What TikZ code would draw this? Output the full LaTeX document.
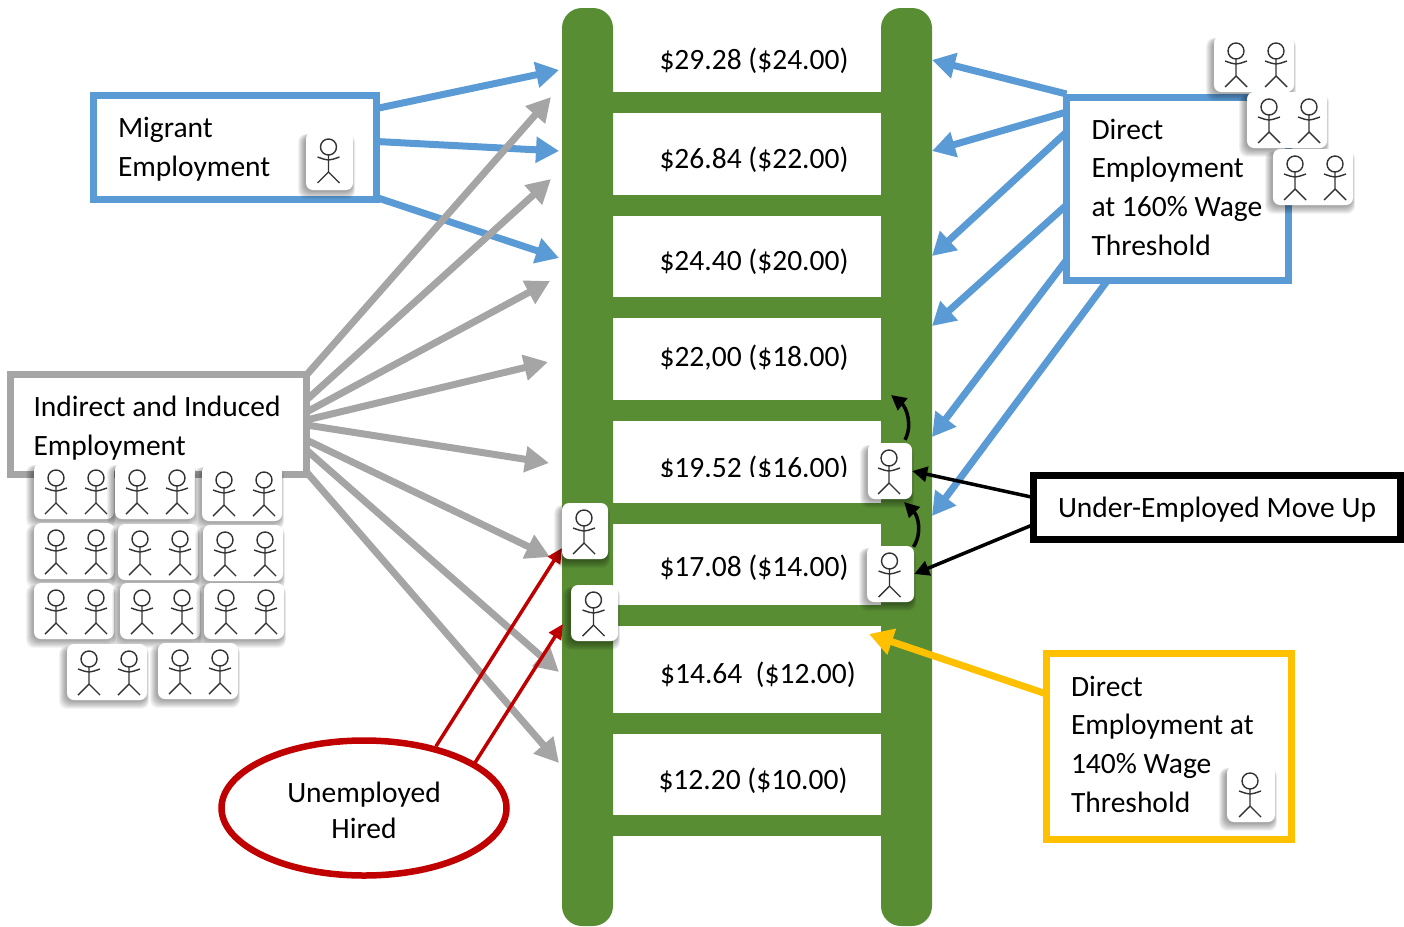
\documentclass[tikz,border=0pt]{standalone}
\usepackage{fontspec}
\setmainfont{Carlito}
\usetikzlibrary{arrows.meta,shapes.geometric,calc}
\definecolor{ladder}{HTML}{588D33}
\definecolor{bluec}{HTML}{5B9BD5}
\definecolor{greyc}{HTML}{A5A5A5}
\definecolor{yelc}{HTML}{FFC000}
\definecolor{redc}{HTML}{C00000}
\tikzset{
  x=1pt,y=-1pt,
  rail/.style={fill=ladder,rounded corners=20pt},
  rung/.style={fill=ladder},
  price/.style={font=\fontsize{29.5}{34}\selectfont,text=black,inner sep=0pt},
  box/.style={draw,line width=7pt,outer sep=0pt,fill=white,rectangle,align=flush left,anchor=north west,inner ysep=0pt,font=\fontsize{29.5}{38.5}\selectfont},
  barrow/.style={bluec,line width=7pt,-{Triangle[length=23pt,width=25pt]}},
  garrow/.style={greyc,line width=7pt,-{Triangle[length=24pt,width=25pt]}},
  yarrow/.style={yelc,line width=7pt,-{Triangle[length=24pt,width=26pt]}},
  karrow/.style={black,line width=3.5pt,-{Triangle[length=15pt,width=15pt]}},
  rarrow/.style={redc,line width=3.5pt,-{Triangle[length=15pt,width=14pt]}},
  card/.style={fill=white,rounded corners=7pt},
  fig/.style={draw=black!80,line width=1.4pt},
}
\newcommand{\nudge}[2]{\raisebox{#1}[20pt][7pt]{#2}}
\newcommand{\stick}[2]{%
  \pgfmathsetmacro{\sx}{#1}\pgfmathsetmacro{\sy}{#2}%
  \draw[fig] (\sx,\sy+15) circle (8);
  \draw[fig] (\sx,\sy+23) -- (\sx,\sy+40) (\sx,\sy+40) -- (\sx-11,\sy+51) (\sx,\sy+40) -- (\sx+11,\sy+51);
  \draw[fig] (\sx-11,\sy+25) .. controls (\sx-5,\sy+27) and (\sx-3,\sy+28) .. (\sx,\sy+28) .. controls (\sx+3,\sy+28) and (\sx+5,\sy+27) .. (\sx+11,\sy+25);
}
\newcommand{\cardbase}[5]{%
  \pgfmathsetmacro{\xa}{#2}\pgfmathsetmacro{\ya}{#3}\pgfmathsetmacro{\xb}{#4}\pgfmathsetmacro{\yb}{#5}%
  \foreach \k in {10,9,...,1}{
    \fill[black,opacity=.04,rounded corners=8pt] (\xa-1-\k*.7,\ya+4-\k*.2) rectangle (\xb-1+\k*.3,\yb+1+\k*.8);
  }
  \pgfmathsetmacro{\cw}{\xb-\xa}\pgfmathsetmacro{\ch}{\yb-\ya}%
  \node[card,inner sep=0pt,minimum width=\cw pt,minimum height=\ch pt] (#1) at ({(\xa+\xb)/2},{(\ya+\yb)/2}) {};
}
\newcommand{\cardtwo}[3]{\cardbase{#1}{#2}{#3}{#2+80}{#3+56}\stick{#2+22}{#3}\stick{#2+62}{#3}}
\newcommand{\cardone}[5]{\cardbase{#1}{#2}{#3}{#4}{#5}\stick{(#2+#4)/2-1}{#3}}
\begin{document}
\begin{tikzpicture}
\useasboundingbox (0,0) rectangle (1404,926);
% ladder
\fill[rail] (562,8) rectangle (613,926);
\fill[rail] (881,8) rectangle (932,926);
\foreach \y in {92,195,297,400,503,605,713,815}{
  \fill[rung] (600,\y) rectangle (890,\y+21);
}
% prices
\node[price] (p1) at (754,61) {\$29.28 (\$24.00)};
\node[price] (p2) at (754,160) {\$26.84 (\$22.00)};
\node[price] (p3) at (754,262) {\$24.40 (\$20.00)};
\node[price] (p4) at (754,358) {\$22,00 (\$18.00)};
\node[price] (p5) at (754,468.5) {\$19.52 (\$16.00)};
\fill[white] (640,476.5) rectangle (862,495);
\node[price] (p6) at (754,568) {\$17.08 (\$14.00)};
\node[price] (p7) at (758,675) {\$14.64\ \ (\$12.00)};
\node[price] (p8) at (753,781) {\$12.20 (\$10.00)};
% arrow ends
\coordinate (m1) at (559,70);
\coordinate (m2) at (559,151);
\coordinate (m3) at (559,258);
\coordinate (g1) at (551,97);
\coordinate (g2) at (551,179);
\coordinate (g3) at (550,281);
\coordinate (g4) at (548,362);
\coordinate (g5) at (549,463);
\coordinate (g6) at (550,557);
\coordinate (g7) at (559,672);
\coordinate (g8) at (559,763);
\coordinate (d1) at (932,60);
\coordinate (d2) at (932,151);
\coordinate (d3) at (932,256);
\coordinate (d4) at (932,326);
\coordinate (d5) at (932,437);
\coordinate (d6) at (932,516);
\coordinate (y1) at (869,634);
\coordinate (r1) at (562,548);
\coordinate (r2) at (563,624);
\coordinate (u1) at (891,395);
\coordinate (u2) at (904,502);
% boxes
\node[box,draw=bluec,minimum width=283pt,minimum height=104pt,text width=234pt,inner xsep=24.5pt] (mig) at (93.5,95.5) {\nudge{-3pt}{Migrant}\\\nudge{-3pt}{Employment}};
\node[box,draw=greyc,minimum width=296pt,minimum height=100pt,text width=250pt,inner xsep=23pt] (ind) at (10.5,374.5) {\nudge{-5pt}{Indirect and Induced}\\\nudge{-5.5pt}{Employment}};
\node[box,draw=bluec,minimum width=222pt,minimum height=183pt,text width=172pt,inner xsep=24pt] (dir) at (1066.5,97.5) {\nudge{-2pt}{Direct}\\\nudge{-1pt}{Employment}\\\nudge{-2pt}{at 160\% Wage}\\\nudge{-2pt}{Threshold}};
\node[box,draw=yelc,minimum width=245pt,minimum height=186pt,text width=196pt,inner xsep=24pt] (dirb) at (1046.5,653.5) {\nudge{-1pt}{Direct}\\\nudge{-1pt}{Employment at}\\\nudge{-1pt}{140\% Wage}\\\nudge{-2pt}{Threshold}};
\node[box,draw=black,minimum width=367pt,minimum height=64pt,align=flush center,inner xsep=0pt] (und) at (1033.5,475.5) {\nudge{-3pt}{Under-Employed Move Up}};
\node[ellipse,draw=redc,line width=6.5pt,fill=white,minimum width=285pt,minimum height=135pt,inner sep=0pt,align=flush center,font=\fontsize{29.5}{36}\selectfont] (une) at (364,808) {\nudge{-6pt}{Unemployed}\\\nudge{-6pt}{Hired}};
% arrows
\draw[barrow] ([yshift=39pt]mig.east) -- (m1);
\draw[barrow] ([yshift=6pt]mig.east) -- (m2);
\draw[barrow] ([yshift=-50pt]mig.east) -- (m3);
\draw[garrow] ([yshift=49.5pt]ind.east) -- (g1);
\draw[garrow] ([yshift=24.5pt]ind.east) -- (g2);
\draw[garrow] ([yshift=12.5pt]ind.east) -- (g3);
\draw[garrow] ([yshift=4.5pt]ind.east) -- (g4);
\draw[garrow] ([yshift=-0.5pt]ind.east) -- (g5);
\draw[garrow] ([yshift=-15.5pt]ind.east) -- (g6);
\draw[garrow] ([yshift=-25.5pt]ind.east) -- (g7);
\draw[garrow] ([yshift=-47.5pt]ind.east) -- (g8);
\draw[barrow] ([yshift=95pt]dir.west) -- (d1);
\draw[barrow] ([yshift=77pt]dir.west) -- (d2);
\draw[barrow] ([yshift=57pt]dir.west) -- (d3);
\draw[barrow] ([yshift=-16pt]dir.west) -- (d4);
\draw[barrow] ([yshift=-71pt]dir.west) -- (d5);
\draw[barrow] ([xshift=-70pt]dir.south) -- (d6);
\draw[yarrow] ([yshift=52.5pt]dirb.west) -- (y1);
\draw[rarrow] ([xshift=72pt,yshift=-9pt]une.north) -- (r1);
\draw[rarrow] ([xshift=110pt,yshift=-27pt]une.north) -- (r2);
% cards
\cardone{c1}{306}{132}{353}{190}
\cardtwo{c2}{34}{463}
\cardtwo{c3}{115}{463}
\cardtwo{c4}{202}{465}
\cardtwo{c5}{34}{523}
\cardtwo{c6}{118}{524}
\cardtwo{c7}{203}{525}
\cardtwo{c8}{34}{583}
\cardtwo{c9}{120}{583}
\cardtwo{c10}{204}{583}
\cardtwo{c11}{67}{644}
\cardtwo{c12}{158}{643}
\cardtwo{c13}{1214}{36}
\cardtwo{c14}{1247}{92}
\cardtwo{c15}{1273}{149}
\cardone{c16}{868}{443}{912}{499}
\cardone{c17}{867}{546}{914}{602}
\cardone{c18}{562}{503}{608}{559}
\cardone{c19}{571}{585}{618}{641}
\cardone{c20}{1227}{766}{1275}{822}
% black arrows
\draw[karrow] ([xshift=15pt,yshift=3pt]c16.north) .. controls +(8,-15) and +(15,12) .. (u1);
\draw[karrow] ([xshift=23pt,yshift=-1pt]c17.north) .. controls +(9,-14) and +(14,14) .. (u2);
\draw[karrow] ([yshift=10pt]und.west) -- (c16.east);
\draw[karrow] ([yshift=-17pt]und.west) -- (c17.east);
\end{tikzpicture}
\end{document}
